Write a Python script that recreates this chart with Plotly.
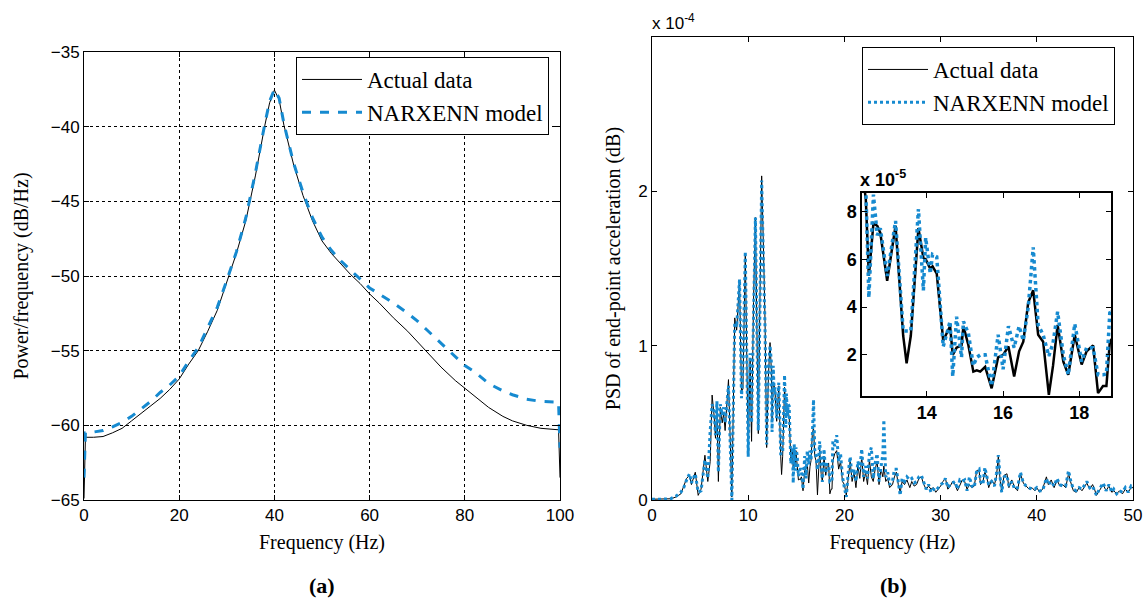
import plotly.graph_objects as go

# ---------------- Data: panel (a) ----------------
freq_a = [0, 0.3, 2, 4, 6, 8, 10, 12, 14, 16, 18, 20, 22, 24, 26, 28, 30, 32, 34, 36, 38, 39, 40,
          41, 42, 44, 46, 48, 50, 52, 54, 56, 58, 60, 62, 65, 68, 70, 72, 75, 78, 80, 82, 85, 88,
          90, 93, 96, 99.7, 100]
actual_a = [-64.9, -60.8, -60.8, -60.75, -60.5, -60.2, -59.7, -59.2, -58.7, -58.2, -57.6, -56.9,
            -55.9, -55.0, -53.7, -52.3, -50.4, -48.5, -46.3, -43.3, -39.9, -38.4, -37.55,
            -38.2, -39.9, -42.5, -44.6, -46.3, -47.65, -48.5, -49.2, -49.9, -50.5, -51.2, -51.8,
            -52.8, -53.7, -54.4, -55.1, -56.1, -57.0, -57.5, -58.0, -58.8, -59.4, -59.7, -60.0,
            -60.2, -60.3, -63.5]
model_a = [-63.5, -60.5, -60.45, -60.35, -60.1, -59.8, -59.4, -58.9, -58.4, -57.8, -57.3, -56.7,
           -55.7, -54.8, -53.5, -52.1, -50.3, -48.4, -46.1, -43.1, -39.8, -38.3, -37.5,
           -38.1, -39.8, -42.4, -44.4, -46.1, -47.4, -48.3, -49.0, -49.6, -50.2, -50.8, -51.2,
           -51.8, -52.5, -53.0, -53.6, -54.5, -55.4, -56.0, -56.4, -57.2, -57.7, -57.95, -58.25,
           -58.4, -58.45, -61.5]

# ---------------- Data: panel (b) (values in units of 1e-4) ----------------
freq_b = [0.0, 0.5, 1.0, 1.5, 2.0, 2.5, 3.0, 3.3, 3.6, 3.9, 4.1, 4.5, 4.8, 5.1, 5.5, 5.8, 6.05, 6.25,
          6.45, 6.6, 6.75, 6.9, 7.1, 7.3, 7.45, 7.6, 7.95, 8.15, 8.3, 8.6, 8.8, 9.1, 9.3, 9.45, 9.7,
          10.0, 10.2, 10.35, 10.55, 10.75, 11.05, 11.2, 11.4, 11.6, 11.75, 11.92, 12.1, 12.27,
          12.4, 12.48, 12.6, 12.7, 12.78, 12.96, 13.1, 13.18, 13.38, 13.47, 13.58, 13.78, 13.91,
          13.97, 14.09, 14.15, 14.26, 14.43, 14.61, 14.68, 14.78, 14.91, 14.96, 15.09, 15.22,
          15.31, 15.4, 15.53, 15.7, 15.87, 16.0, 16.14, 16.29, 16.42, 16.53, 16.66, 16.79, 16.92,
          17.05, 17.2, 17.31, 17.43, 17.58, 17.71, 17.88, 18.06, 18.19, 18.36, 18.49, 18.62, 18.71,
          18.8, 19.0, 19.2, 19.4, 19.6, 19.8, 20.0, 20.2, 20.4, 20.6, 20.8, 21.0, 21.2, 21.4, 21.6,
          21.8, 22.0, 22.2, 22.4, 22.6, 22.8, 23.0, 23.2, 23.4, 23.6, 23.8, 24.0, 24.1, 24.3, 24.5,
          24.7, 25.0, 25.2, 25.4, 25.6, 25.8, 26.0, 26.25, 26.5, 26.8, 27.0, 27.25, 27.5, 27.75,
          28.0, 28.25, 28.5, 28.75, 29.0, 29.25, 29.5, 29.75, 30.0, 30.25, 30.5, 30.75, 31.0,
          31.25, 31.5, 31.75, 32.0, 32.25, 32.5, 32.75, 33.0, 33.25, 33.5, 33.75, 34.0, 34.15,
          34.4, 34.6, 34.8, 35.0, 35.3, 35.6, 35.8, 36.0, 36.2, 36.35, 36.6, 36.9, 37.1, 37.4,
          37.7, 38.0, 38.3, 38.6, 38.9, 39.2, 39.5, 39.8, 40.0, 40.3, 40.6, 41.0, 41.2, 41.5,
          41.8, 42.1, 42.4, 42.7, 43.0, 43.3, 43.5, 43.8, 44.1, 44.4, 44.7, 45.0, 45.2, 45.5,
          45.8, 46.0, 46.2, 46.5, 46.9, 47.2, 47.5, 47.8, 48.0, 48.3, 48.6, 48.9, 49.2, 49.5,
          49.8, 50.0]
actual_b = [0.005, 0.005, 0.006, 0.005, 0.008, 0.02, 0.04, 0.09, 0.14, 0.16, 0.10, 0.18, 0.03,
            0.07, 0.29, 0.12, 0.25, 0.68, 0.55, 0.40, 0.60, 0.12, 0.60, 0.50, 0.56, 0.45, 0.78,
            0.35, 0.02, 1.18, 1.10, 1.42, 0.70, 0.72, 1.60, 0.30, 0.90, 0.38, 1.28, 1.83, 0.43,
            1.20, 2.10, 1.60, 1.16, 0.34, 0.80, 1.02,
            0.85, 0.53, 0.75, 0.74, 0.71, 0.51, 0.67, 0.74, 0.28, 0.165, 0.28, 0.73, 0.605,
            0.60, 0.56, 0.57, 0.54, 0.26, 0.32, 0.20, 0.23, 0.24, 0.32, 0.24, 0.13,
            0.135, 0.13, 0.15, 0.06, 0.19, 0.20, 0.235, 0.11, 0.215, 0.255, 0.42, 0.47, 0.284,
            0.255, 0.033, 0.155, 0.325, 0.172, 0.117, 0.284, 0.16, 0.215, 0.24, 0.04, 0.07, 0.07,
            0.255, 0.30, 0.32, 0.20, 0.25, 0.12, 0.10, 0.03, 0.15, 0.25, 0.12, 0.18, 0.08, 0.22,
            0.14, 0.28, 0.12, 0.18, 0.10, 0.26, 0.15, 0.12, 0.20, 0.25, 0.10, 0.20, 0.15, 0.22,
            0.12, 0.14, 0.08, 0.10, 0.15, 0.18, 0.10, 0.05, 0.12, 0.10, 0.13, 0.08, 0.12, 0.09,
            0.10, 0.14, 0.15, 0.10, 0.07, 0.09, 0.07, 0.08, 0.05, 0.07, 0.09, 0.12, 0.14, 0.07,
            0.09, 0.12, 0.10, 0.06, 0.10, 0.13, 0.12, 0.07, 0.10, 0.08, 0.09, 0.19, 0.19, 0.10,
            0.12, 0.18, 0.15, 0.08, 0.13, 0.10, 0.15, 0.28, 0.12, 0.06, 0.16, 0.17, 0.08, 0.13,
            0.08, 0.06, 0.17, 0.11, 0.09, 0.07, 0.08, 0.06, 0.08, 0.05, 0.07, 0.15, 0.10, 0.13,
            0.08, 0.13, 0.09, 0.10, 0.08, 0.17, 0.12, 0.06, 0.05, 0.08, 0.06, 0.09, 0.11, 0.07,
            0.10, 0.07, 0.03, 0.06, 0.10, 0.06, 0.09, 0.05, 0.06, 0.04, 0.06, 0.04, 0.07, 0.05,
            0.08, 0.08]
model_b = [0.005, 0.004, 0.005, 0.006, 0.010, 0.025, 0.05, 0.08, 0.13, 0.17, 0.11, 0.17, 0.05,
           0.06, 0.26, 0.14, 0.45, 0.62, 0.57, 0.42, 0.64, 0.18, 0.62, 0.55, 0.60, 0.50, 0.74,
           0.30, 0.0, 1.15, 1.12, 1.43, 0.66, 0.85, 1.61, 0.28, 0.95, 0.50, 1.30, 1.83, 0.45,
           1.10, 2.07, 1.50, 1.12, 0.36, 0.85, 1.00,
           0.90, 0.44, 0.87, 0.70, 0.73, 0.53, 0.68, 0.76, 0.30, 0.30, 0.30, 0.81, 0.47,
           0.69, 0.54, 0.62, 0.61, 0.235, 0.34, 0.11, 0.36, 0.19, 0.34, 0.29, 0.155,
           0.19, 0.20, 0.20, 0.07, 0.284, 0.14, 0.32, 0.23, 0.32, 0.26, 0.40, 0.65, 0.325,
           0.284, 0.195, 0.25, 0.38, 0.20, 0.117, 0.33, 0.172, 0.23, 0.23, 0.117, 0.117, 0.12,
           0.38, 0.35, 0.42, 0.25, 0.30, 0.15, 0.08, 0.02, 0.18, 0.28, 0.15, 0.20, 0.12, 0.25,
           0.20, 0.33, 0.15, 0.22, 0.14, 0.30, 0.34, 0.14, 0.24, 0.30, 0.12, 0.22, 0.30, 0.52,
           0.15, 0.18, 0.10, 0.12, 0.20, 0.20, 0.12, 0.03, 0.14, 0.12, 0.15, 0.13, 0.14, 0.11,
           0.12, 0.15, 0.16, 0.11, 0.07, 0.10, 0.05, 0.07, 0.06, 0.08, 0.10, 0.11, 0.14, 0.08,
           0.10, 0.11, 0.12, 0.07, 0.13, 0.12, 0.13, 0.06, 0.15, 0.09, 0.08, 0.19, 0.20, 0.12,
           0.10, 0.21, 0.16, 0.10, 0.12, 0.09, 0.17, 0.29, 0.14, 0.05, 0.15, 0.16, 0.09, 0.12,
           0.07, 0.08, 0.18, 0.11, 0.09, 0.08, 0.07, 0.07, 0.08, 0.06, 0.06, 0.14, 0.10, 0.12,
           0.09, 0.14, 0.10, 0.09, 0.09, 0.19, 0.13, 0.07, 0.06, 0.08, 0.07, 0.10, 0.12, 0.08,
           0.09, 0.06, 0.03, 0.07, 0.11, 0.06, 0.10, 0.05, 0.07, 0.04, 0.06, 0.05, 0.08, 0.05,
           0.09, 0.08]

# inset shows the same data in units of 1e-5
inset_actual = [v * 10 for v in actual_b]
inset_model = [v * 10 for v in model_b]

BLUE = "rgb(22,138,208)"
SERIF = "Liberation Serif"
SANS = "Liberation Sans"
W, H = 1146, 604

def px(x):
    return x / W

def py(y):
    return 1 - y / H

fig = go.Figure()

# panel (a)
fig.add_trace(go.Scatter(x=freq_a, y=actual_a, mode="lines", name="Actual data",
                         line=dict(color="black", width=1), xaxis="x", yaxis="y", legend="legend"))
fig.add_trace(go.Scatter(x=freq_a, y=model_a, mode="lines", name="NARXENN model",
                         line=dict(color=BLUE, width=3, dash="dash"), xaxis="x", yaxis="y",
                         legend="legend"))
# panel (b)
fig.add_trace(go.Scatter(x=freq_b, y=actual_b, mode="lines", name="Actual data",
                         line=dict(color="black", width=1), xaxis="x2", yaxis="y2", legend="legend2"))
fig.add_trace(go.Scatter(x=freq_b, y=model_b, mode="lines", name="NARXENN model",
                         line=dict(color=BLUE, width=3, dash="dot"), xaxis="x2", yaxis="y2",
                         legend="legend2"))
# inset
fig.add_trace(go.Scatter(x=freq_b, y=inset_actual, mode="lines", showlegend=False,
                         line=dict(color="black", width=2.5), xaxis="x3", yaxis="y3"))
fig.add_trace(go.Scatter(x=freq_b, y=inset_model, mode="lines", showlegend=False,
                         line=dict(color=BLUE, width=3.5, dash="dot"), xaxis="x3", yaxis="y3"))

tickfont = dict(family=SANS, size=17, color="black")
titlefont = dict(family=SERIF, size=20, color="black")
common = dict(showline=True, linecolor="black", linewidth=1, mirror="ticks", ticks="inside",
              ticklen=5, tickcolor="black", tickfont=tickfont, zeroline=False, automargin=False)
inset_common = dict(showline=True, linecolor="black", linewidth=1.5, mirror="ticks", ticks="inside",
                    ticklen=5, tickcolor="black", zeroline=False, showgrid=False, automargin=False,
                    tickfont=dict(family=SANS, size=18, color="black", weight="bold"))

fig.update_layout(
    width=W, height=H, margin=dict(l=0, r=0, t=0, b=0),
    paper_bgcolor="white", plot_bgcolor="white",
    xaxis=dict(domain=[px(84), px(560)], range=[0, 100], tickvals=[0, 20, 40, 60, 80, 100],
               showgrid=True, gridcolor="black", griddash="dot", gridwidth=1,
               title=dict(text="Frequency (Hz)", font=titlefont, standoff=10), anchor="y", **common),
    yaxis=dict(domain=[py(500), py(52)], range=[-65, -35], tickvals=[-65, -60, -55, -50, -45, -40, -35],
               showgrid=True, gridcolor="black", griddash="dot", gridwidth=1,
               title=dict(text="Power/frequency (dB/Hz)", font=titlefont, standoff=16), anchor="x", **common),
    xaxis2=dict(domain=[px(652), px(1133)], range=[0, 50], tickvals=[0, 10, 20, 30, 40, 50],
                showgrid=False, title=dict(text="Frequency (Hz)", font=titlefont, standoff=10),
                anchor="y2", **common),
    yaxis2=dict(domain=[py(500), py(37)], range=[0, 3], tickvals=[0, 1, 2], showgrid=False,
                title=dict(text="PSD of end-point acceleration (dB)", font=titlefont, standoff=12),
                anchor="x2", **common),
    xaxis3=dict(domain=[px(862), px(1111)], range=[12.3, 18.83], tickvals=[14, 16, 18],
                anchor="y3", **inset_common),
    yaxis3=dict(domain=[py(396), py(193)], range=[0.28, 8.77], tickvals=[2, 4, 6, 8],
                anchor="x3", **inset_common),
    legend=dict(x=px(296), y=py(57), xanchor="left", yanchor="top", bgcolor="white",
                bordercolor="black", borderwidth=1, font=dict(family=SERIF, size=23, color="black"),
                itemwidth=60, tracegroupgap=0),
    legend2=dict(x=px(862), y=py(47), xanchor="left", yanchor="top", bgcolor="white",
                 bordercolor="black", borderwidth=1, font=dict(family=SERIF, size=23, color="black"),
                 itemwidth=60, tracegroupgap=0),
    shapes=[dict(type="rect", xref="x3 domain", yref="y3 domain", x0=0, x1=1, y0=0, y1=1,
                 fillcolor="white", line=dict(width=0), layer="below")],
    annotations=[
        dict(text="x 10<sup>-4</sup>", x=px(650), y=py(22), xref="paper", yref="paper",
             xanchor="left", yanchor="middle", showarrow=False, font=dict(family=SANS, size=17, color="black")),
        dict(text="<b>x 10<sup>-5</sup></b>", x=px(858), y=py(178), xref="paper", yref="paper",
             xanchor="left", yanchor="middle", showarrow=False, font=dict(family=SANS, size=18, color="black")),
        dict(text="<b>(a)</b>", x=px(322), y=py(585), xref="paper", yref="paper",
             xanchor="center", yanchor="middle", showarrow=False, font=dict(family=SERIF, size=22, color="black")),
        dict(text="<b>(b)</b>", x=px(893), y=py(585), xref="paper", yref="paper",
             xanchor="center", yanchor="middle", showarrow=False, font=dict(family=SERIF, size=22, color="black")),
    ],
)

fig.write_html("out.html")
